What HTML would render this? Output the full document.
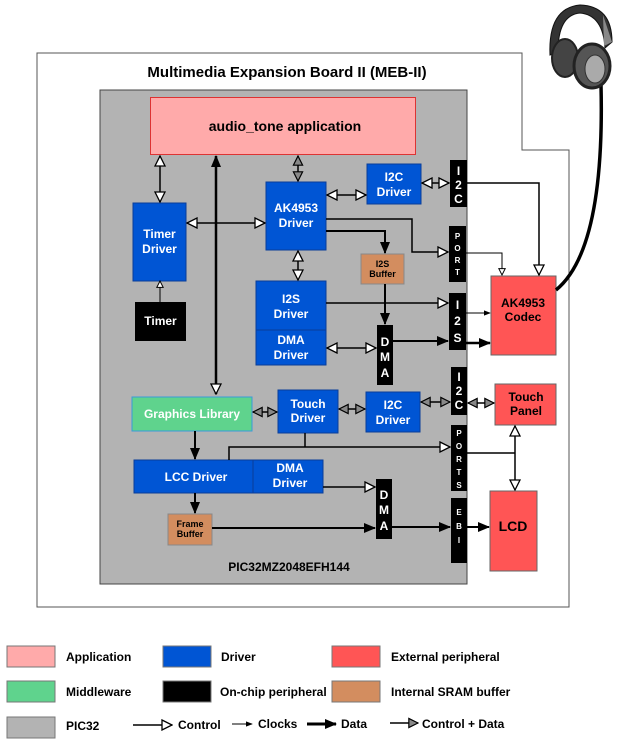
<!DOCTYPE html>
<html><head><meta charset="utf-8"><style>
html,body{margin:0;padding:0;background:#fff;}
svg{display:block;font-family:"Liberation Sans","DejaVu Sans",sans-serif;font-weight:bold;}
</style></head><body>
<svg width="628" height="745" viewBox="0 0 628 745" xmlns="http://www.w3.org/2000/svg">
<defs>
<marker id="w" viewBox="0 0 12 12" refX="11" refY="6" markerWidth="12" markerHeight="12" markerUnits="userSpaceOnUse" orient="auto-start-reverse"><path d="M1,1 L11,6 L1,11 Z" fill="#fff" stroke="#000" stroke-width="1.3"/></marker>
<marker id="g" viewBox="0 0 12 12" refX="11" refY="6" markerWidth="11" markerHeight="11" markerUnits="userSpaceOnUse" orient="auto-start-reverse"><path d="M1,1 L11,6 L1,11 Z" fill="#888" stroke="#000" stroke-width="1.3"/></marker>
<marker id="d" viewBox="0 0 12 12" refX="11" refY="6" markerWidth="12" markerHeight="12" markerUnits="userSpaceOnUse" orient="auto-start-reverse"><path d="M0,1 L12,6 L0,11 Z" fill="#000"/></marker>
<marker id="c" viewBox="0 0 8 8" refX="7" refY="4" markerWidth="7" markerHeight="7" markerUnits="userSpaceOnUse" orient="auto"><path d="M0,1 L8,4 L0,7 Z" fill="#000"/></marker>
<marker id="sw" viewBox="0 0 10 10" refX="9" refY="5" markerWidth="8" markerHeight="8" markerUnits="userSpaceOnUse" orient="auto"><path d="M1,1 L9,5 L1,9 Z" fill="#fff" stroke="#000" stroke-width="1.2"/></marker>
</defs>

<path d="M37,53 L522,53 L522,150 L569,150 L569,607 L37,607 Z" fill="#fff" stroke="#555" stroke-width="1"/>
<text x="287" y="77" font-size="15" text-anchor="middle" fill="#000">Multimedia Expansion Board II (MEB-II)</text>

<rect x="100" y="90" width="367" height="494" fill="#b3b3b3" stroke="#444" stroke-width="1"/>
<text x="289" y="571" font-size="12" text-anchor="middle">PIC32MZ2048EFH144</text>

<rect x="150.5" y="97.5" width="265" height="57" fill="#ffaaaa" stroke="#d33" stroke-width="1"/>
<text x="285" y="131" font-size="14" text-anchor="middle">audio_tone application</text>

<g fill="#0055d4" stroke="#0a3d99" stroke-width="1">
<rect x="133" y="203" width="53" height="78"/>
<rect x="266" y="182" width="60" height="68"/>
<rect x="367" y="164" width="54" height="40"/>
<rect x="256" y="281" width="70" height="49"/>
<rect x="256" y="330" width="70" height="35"/>
<rect x="278" y="390" width="60" height="43"/>
<rect x="366" y="392" width="54" height="40"/>
<rect x="134" y="460" width="119" height="33"/>
<rect x="253" y="460" width="70" height="33"/>
</g>
<g fill="#fff" font-size="12" text-anchor="middle">
<text x="159.5" y="238">Timer</text><text x="159.5" y="253">Driver</text>
<text x="296" y="212">AK4953</text><text x="296" y="227">Driver</text>
<text x="394" y="181">I2C</text><text x="394" y="196">Driver</text>
<text x="291" y="303">I2S</text><text x="291" y="318">Driver</text>
<text x="291" y="344">DMA</text><text x="291" y="359">Driver</text>
<text x="308" y="408">Touch</text><text x="308" y="422">Driver</text>
<text x="393" y="409">I2C</text><text x="393" y="424">Driver</text>
<text x="196" y="481">LCC Driver</text>
<text x="290" y="472">DMA</text><text x="290" y="487">Driver</text>
</g>
<rect x="132" y="397" width="120" height="34" fill="#5fd38d" stroke="#3a9bd9" stroke-width="1"/>
<text x="192" y="418" fill="#fff" font-size="12" text-anchor="middle">Graphics Library</text>

<rect x="135" y="302" width="51" height="39" fill="#000"/>
<text x="160.5" y="325" fill="#fff" font-size="12" text-anchor="middle">Timer</text>

<g fill="#d38d5f" stroke="#888" stroke-width="1">
<rect x="361" y="254" width="43" height="30"/>
<rect x="168" y="514" width="44" height="31"/>
</g>
<g font-size="9" text-anchor="middle" fill="#000">
<text x="382.5" y="267">I2S</text><text x="382.5" y="277">Buffer</text>
<text x="190" y="527">Frame</text><text x="190" y="537">Buffer</text>
</g>

<g fill="#000">
<rect x="450" y="160" width="17" height="47"/>
<rect x="449" y="226" width="17" height="56"/>
<rect x="449" y="293" width="17" height="57"/>
<rect x="377" y="325" width="16" height="60"/>
<rect x="451" y="367" width="16" height="48"/>
<rect x="451" y="425" width="16" height="66"/>
<rect x="376" y="479" width="16" height="60"/>
<rect x="451" y="498" width="16" height="65"/>
</g>
<g fill="#fff" text-anchor="middle" font-size="12">
<text x="458.5" y="175">I</text><text x="458.5" y="189">2</text><text x="458.5" y="203">C</text>
<text x="457.5" y="309">I</text><text x="457.5" y="325">2</text><text x="457.5" y="342">S</text>
<text x="385" y="346">D</text><text x="385" y="361">M</text><text x="385" y="377">A</text>
<text x="459" y="381">I</text><text x="459" y="395">2</text><text x="459" y="409">C</text>
<text x="384" y="499">D</text><text x="384" y="514">M</text><text x="384" y="530">A</text>
</g>
<g fill="#fff" text-anchor="middle" font-size="8">
<text x="457.5" y="239">P</text><text x="457.5" y="251">O</text><text x="457.5" y="263">R</text><text x="457.5" y="275">T</text>
<text x="459" y="436">P</text><text x="459" y="449">O</text><text x="459" y="462">R</text><text x="459" y="475">T</text><text x="459" y="488">S</text>
<text x="459" y="515">E</text><text x="459" y="529">B</text><text x="459" y="543">I</text>
</g>

<g fill="#ff5555" stroke="#666" stroke-width="1">
<rect x="491" y="276" width="65" height="79"/>
<rect x="495" y="384" width="61" height="41"/>
<rect x="490" y="491" width="47" height="80"/>
</g>
<g font-size="12" text-anchor="middle" fill="#000">
<text x="523" y="307">AK4953</text><text x="523" y="321">Codec</text>
<text x="526" y="401">Touch</text><text x="526" y="415">Panel</text>
<text x="513" y="531" font-size="14">LCD</text>
</g>

<!-- headphone -->
<path d="M556,290 Q605,250 601,85" fill="none" stroke="#000" stroke-width="3.5"/>
<path d="M550,55 Q548,8 580,5 Q612,6 612,42 L605,48 Q603,15 580,13 Q558,15 558,52 Z" fill="#333" stroke="#111"/>
<path d="M603,15 L612,42 L604,46 Z" fill="#888"/>
<ellipse cx="565" cy="58" rx="13" ry="19" fill="#444" stroke="#222" stroke-width="2"/>
<ellipse cx="592" cy="66" rx="18" ry="22" fill="#555" stroke="#222" stroke-width="3"/>
<ellipse cx="595" cy="69" rx="10" ry="14" fill="#aaa" stroke="#333"/>

<g fill="none" stroke="#000" stroke-width="1.5">
<path d="M160,156 V202" marker-start="url(#w)" marker-end="url(#w)"/>
<path d="M216,156 V394" stroke-width="2.5" marker-start="url(#d)" marker-end="url(#w)"/>
<path d="M187,223 H265" marker-start="url(#w)" marker-end="url(#w)"/>
<path d="M298,156 V181" marker-start="url(#g)" marker-end="url(#g)"/>
<path d="M327,195 H366" marker-start="url(#w)" marker-end="url(#w)"/>
<path d="M422,183 H449" marker-start="url(#w)" marker-end="url(#w)"/>
<path d="M326,219 H412 V252 H448" marker-end="url(#w)"/>
<path d="M326,231 H385 V253" stroke-width="2" marker-end="url(#d)"/>
<path d="M385,284 V324" stroke-width="2" marker-end="url(#d)"/>
<path d="M298,251 V280" marker-start="url(#w)" marker-end="url(#w)"/>
<path d="M326,303 H448" marker-end="url(#w)"/>
<path d="M327,348 H376" marker-start="url(#w)" marker-end="url(#w)"/>
<path d="M393,341 H448" stroke-width="2" marker-end="url(#d)"/>
<path d="M466,313 H490" stroke-width="1" marker-end="url(#c)"/>
<path d="M466,343 H490" stroke-width="2.5" marker-end="url(#d)"/>
<path d="M467,183 H539 V275" marker-end="url(#w)"/>
<path d="M466,253 H502 V275" stroke-width="1" marker-end="url(#sw)"/>
<path d="M160,302 V281" stroke-width="1" marker-end="url(#sw)"/>
<path d="M253,412 H277" marker-start="url(#g)" marker-end="url(#g)"/>
<path d="M339,409 H365" marker-start="url(#g)" marker-end="url(#g)"/>
<path d="M421,402 H450" marker-start="url(#g)" marker-end="url(#g)"/>
<path d="M468,403 H494" marker-start="url(#g)" marker-end="url(#g)"/>
<path d="M305,433 V447 M229,460 V447 H450" marker-end="url(#w)"/>
<path d="M467,453 H515"/>
<path d="M515,426 V490" marker-start="url(#w)" marker-end="url(#w)"/>
<path d="M195,431 V459" stroke-width="2" marker-end="url(#d)"/>
<path d="M195,493 V513" stroke-width="2" marker-end="url(#d)"/>
<path d="M323,487 H375" marker-end="url(#w)"/>
<path d="M212,528 H375" stroke-width="2" marker-end="url(#d)"/>
<path d="M392,527 H450" stroke-width="2" marker-end="url(#d)"/>
<path d="M467,527 H489" stroke-width="2" marker-end="url(#d)"/>
</g>

<g stroke="#777" stroke-width="1">
<rect x="7" y="646" width="48" height="21" fill="#ffaaaa"/>
<rect x="163" y="646" width="48" height="21" fill="#0055d4"/>
<rect x="332" y="646" width="48" height="21" fill="#ff5555"/>
<rect x="7" y="681" width="48" height="21" fill="#5fd38d"/>
<rect x="163" y="681" width="48" height="21" fill="#000"/>
<rect x="332" y="681" width="48" height="21" fill="#d38d5f"/>
<rect x="7" y="717" width="48" height="21" fill="#b3b3b3"/>
</g>
<g font-size="12" fill="#000">
<text x="66" y="661">Application</text>
<text x="221" y="661">Driver</text>
<text x="391" y="661">External peripheral</text>
<text x="66" y="696">Middleware</text>
<text x="220" y="696">On-chip peripheral</text>
<text x="391" y="696">Internal SRAM buffer</text>
<text x="66" y="730">PIC32</text>
<text x="178" y="729">Control</text>
<text x="258" y="728">Clocks</text>
<text x="341" y="728">Data</text>
<text x="422" y="728">Control + Data</text>
</g>
<g fill="none" stroke="#000" stroke-width="1.5">
<path d="M133,725 H172" marker-end="url(#w)"/>
<path d="M232,724 H252" stroke-width="1" marker-end="url(#c)"/>
<path d="M307,724 H336" stroke-width="3" marker-end="url(#d)"/>
<path d="M390,723 H418" marker-end="url(#g)"/>
</g>
</svg>
</body></html>
